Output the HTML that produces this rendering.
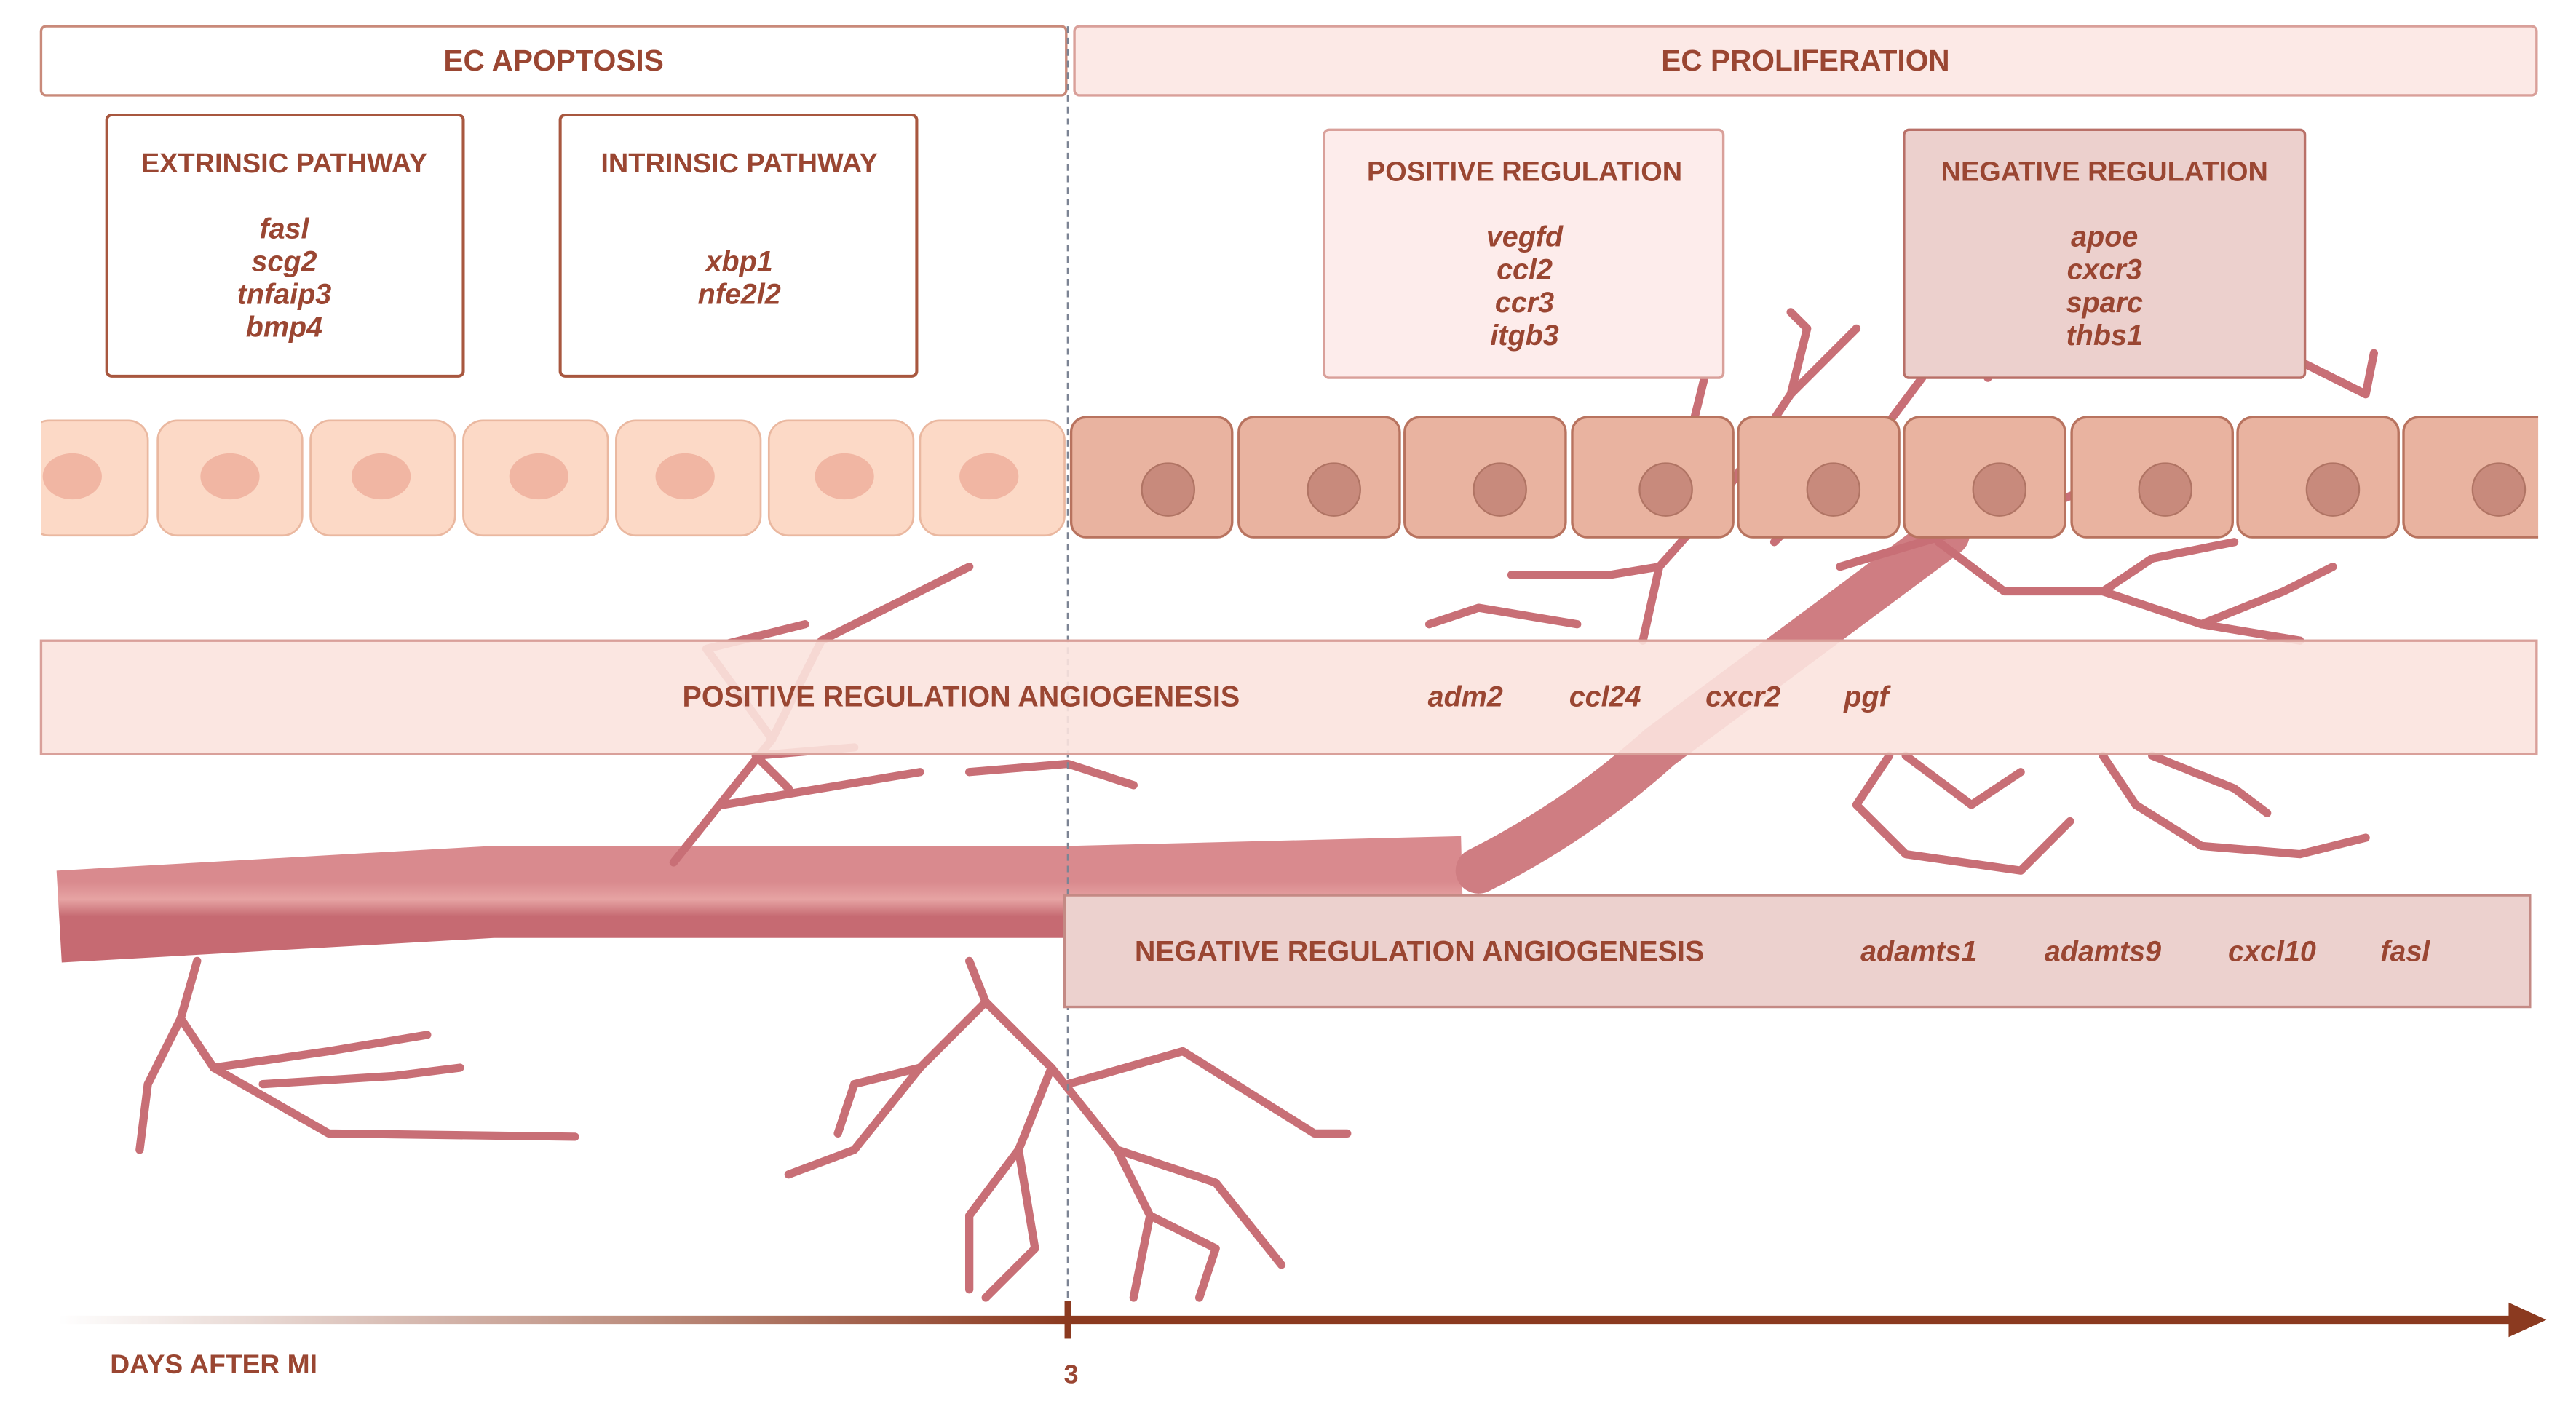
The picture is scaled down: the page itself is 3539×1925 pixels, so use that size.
<!DOCTYPE html>
<html><head><meta charset="utf-8"><style>
html,body{margin:0;padding:0;background:#fff;}
svg{display:block;}
text{font-family:"Liberation Sans",sans-serif;fill:#9a4632;font-weight:bold;}
.g{font-style:italic;}
</style></head><body>
<svg width="3539" height="1925" viewBox="0 0 1568 852.9" preserveAspectRatio="none" xmlns="http://www.w3.org/2000/svg">
<defs>
<linearGradient id="ax" x1="0" x2="1"><stop offset="0" stop-color="#8b3a20" stop-opacity="0"/><stop offset="1" stop-color="#8b3a20"/></linearGradient>
<linearGradient id="vs" x1="0" y1="0" x2="0" y2="1"><stop offset="0" stop-color="#d98a8e"/><stop offset="0.5" stop-color="#e6a3a3"/><stop offset="1" stop-color="#c66a72"/></linearGradient>
</defs>
<g fill="none" stroke="#c86f76" stroke-linecap="round" stroke-linejoin="round">
<path d="M36,558 L300,543 L650,543 L890,537" stroke="url(#vs)" stroke-width="56" stroke-linecap="butt"/>
<path d="M900,530 Q960,500 1010,455 L1185,325" stroke="#cf7d82" stroke-width="28"/>
<g stroke-width="5">
<path d="M410,525 L470,450 L500,390 L560,360 L590,345"/>
<path d="M470,450 L430,395 L490,380"/>
<path d="M500,390 L540,370"/>
<path d="M440,490 L500,480 L560,470"/>
<path d="M480,480 L460,460 L520,455"/>
<path d="M590,470 L650,465 L690,478"/>
<path d="M120,585 L110,620 L130,650 L200,690 L350,692"/>
<path d="M110,620 L90,660 L85,700"/>
<path d="M130,650 L200,640 L260,630"/>
<path d="M160,660 L240,655 L280,650"/>
<path d="M590,585 L600,610 L640,650 L680,700 L700,740 L690,790"/>
<path d="M600,610 L560,650 L520,700 L480,715"/>
<path d="M560,650 L520,660 L510,690"/>
<path d="M640,650 L620,700 L630,760 L600,790"/>
<path d="M620,700 L590,740 L590,785"/>
<path d="M650,660 L720,640 L800,690 L820,690"/>
<path d="M680,700 L740,720 L780,770"/>
<path d="M700,740 L740,760 L730,790"/>
<path d="M1000,390 L1010,345 L1050,300 L1090,240 L1130,200"/>
<path d="M1050,300 L1030,260 L1040,220"/>
<path d="M1090,240 L1100,200 L1090,190"/>
<path d="M1010,345 L980,350 L920,350"/>
<path d="M960,380 L900,370 L870,380"/>
<path d="M1080,330 L1140,270 L1170,230"/>
<path d="M1120,345 L1170,330 L1240,310 L1290,290"/>
<path d="M1180,330 L1220,360 L1280,360 L1340,380 L1400,390"/>
<path d="M1280,360 L1310,340 L1360,330"/>
<path d="M1340,380 L1390,360 L1420,345"/>
<path d="M1210,230 L1230,200 L1260,190"/>
<path d="M1400,220 L1440,240 L1445,215"/>
<path d="M1150,460 L1130,490 L1160,520 L1230,530 L1260,500"/>
<path d="M1160,460 L1200,490 L1230,470"/>
<path d="M1280,460 L1300,490 L1340,515 L1400,520 L1440,510"/>
<path d="M1310,460 L1360,480 L1380,495"/>
</g></g>
<rect x="25" y="16" width="624" height="42" fill="#fff" stroke="#c98a7a" stroke-width="1.5" rx="3"/>
<text x="337" y="43" text-anchor="middle" font-size="18">EC APOPTOSIS</text>
<rect x="654" y="16" width="890" height="42" fill="#fce9e6" stroke="#d9a09a" stroke-width="1.5" rx="3"/>
<text x="1099" y="43" text-anchor="middle" font-size="18">EC PROLIFERATION</text>
<line x1="650" y1="16" x2="650" y2="800" stroke="#7c8494" stroke-width="1.2" stroke-dasharray="4,3"/>
<rect x="65" y="70" width="217" height="159" fill="#fff" stroke="#a8573f" stroke-width="1.8" rx="3"/>
<text x="173" y="105" text-anchor="middle" font-size="16.8">EXTRINSIC PATHWAY</text>
<g font-size="17.5">
<text class="g" x="173" y="145" text-anchor="middle">fasl</text>
<text class="g" x="173" y="165" text-anchor="middle">scg2</text>
<text class="g" x="173" y="185" text-anchor="middle">tnfaip3</text>
<text class="g" x="173" y="205" text-anchor="middle">bmp4</text>
</g>
<rect x="341" y="70" width="217" height="159" fill="#fff" stroke="#a8573f" stroke-width="1.8" rx="3"/>
<text x="450" y="105" text-anchor="middle" font-size="16.8">INTRINSIC PATHWAY</text>
<g font-size="17.5"><text class="g" x="450" y="165" text-anchor="middle">xbp1</text>
<text class="g" x="450" y="185" text-anchor="middle">nfe2l2</text></g>
<rect x="806" y="79" width="243" height="151" fill="#fdeceb" stroke="#d9a09a" stroke-width="1.5" rx="3"/>
<text x="928" y="110" text-anchor="middle" font-size="16.8">POSITIVE REGULATION</text>
<g font-size="17.5"><text class="g" x="928" y="150" text-anchor="middle">vegfd</text>
<text class="g" x="928" y="170" text-anchor="middle">ccl2</text>
<text class="g" x="928" y="190" text-anchor="middle">ccr3</text>
<text class="g" x="928" y="210" text-anchor="middle">itgb3</text></g>
<rect x="1159" y="79" width="244" height="151" fill="#ecd0cd" stroke="#b97068" stroke-width="1.5" rx="3"/>
<text x="1281" y="110" text-anchor="middle" font-size="16.8">NEGATIVE REGULATION</text>
<g font-size="17.5"><text class="g" x="1281" y="150" text-anchor="middle">apoe</text>
<text class="g" x="1281" y="170" text-anchor="middle">cxcr3</text>
<text class="g" x="1281" y="190" text-anchor="middle">sparc</text>
<text class="g" x="1281" y="210" text-anchor="middle">thbs1</text></g>
<g fill="#fcd9c6" stroke="#eab8a0" stroke-width="1.2">
<rect x="18" y="256" width="72" height="70" rx="12"/>
<rect x="96" y="256" width="88" height="70" rx="12"/>
<rect x="189" y="256" width="88" height="70" rx="12"/>
<rect x="282" y="256" width="88" height="70" rx="12"/>
<rect x="375" y="256" width="88" height="70" rx="12"/>
<rect x="468" y="256" width="88" height="70" rx="12"/>
<rect x="560" y="256" width="88" height="70" rx="12"/>
</g>
<g fill="#f1b6a3">
<ellipse cx="44" cy="290" rx="18" ry="14"/><ellipse cx="140" cy="290" rx="18" ry="14"/>
<ellipse cx="232" cy="290" rx="18" ry="14"/><ellipse cx="328" cy="290" rx="18" ry="14"/>
<ellipse cx="417" cy="290" rx="18" ry="14"/><ellipse cx="514" cy="290" rx="18" ry="14"/>
<ellipse cx="602" cy="290" rx="18" ry="14"/></g>
<rect x="17" y="250" width="8" height="82" fill="#fff"/>
<g fill="#e9b3a0" stroke="#b8735f" stroke-width="1.5">
<rect x="652" y="254" width="98" height="73" rx="9"/>
<rect x="754" y="254" width="98" height="73" rx="9"/>
<rect x="855" y="254" width="98" height="73" rx="9"/>
<rect x="957" y="254" width="98" height="73" rx="9"/>
<rect x="1058" y="254" width="98" height="73" rx="9"/>
<rect x="1159" y="254" width="98" height="73" rx="9"/>
<rect x="1261" y="254" width="98" height="73" rx="9"/>
<rect x="1362" y="254" width="98" height="73" rx="9"/>
<rect x="1463" y="254" width="98" height="73" rx="9"/>
</g>
<g fill="#c88a7c" stroke="#b07464" stroke-width="1">
<circle cx="711" cy="298" r="16"/><circle cx="812" cy="298" r="16"/><circle cx="913" cy="298" r="16"/>
<circle cx="1014" cy="298" r="16"/><circle cx="1116" cy="298" r="16"/><circle cx="1217" cy="298" r="16"/>
<circle cx="1318" cy="298" r="16"/><circle cx="1420" cy="298" r="16"/><circle cx="1521" cy="298" r="16"/></g>
<rect x="1545" y="248" width="30" height="85" fill="#fff"/>
<rect x="25" y="390" width="1519" height="69" fill="#fbe3de" fill-opacity="0.9" stroke="#d9a09a" stroke-width="1.5"/>
<text x="585" y="430" text-anchor="middle" font-size="17.5">POSITIVE REGULATION ANGIOGENESIS</text>
<g font-size="17.5"><text class="g" x="892" y="430" text-anchor="middle">adm2</text>
<text class="g" x="977" y="430" text-anchor="middle">ccl24</text>
<text class="g" x="1061" y="430" text-anchor="middle">cxcr2</text>
<text class="g" x="1136" y="430" text-anchor="middle">pgf</text></g>
<rect x="648" y="545" width="892" height="68" fill="#ecd1ce" stroke="#c48a85" stroke-width="1.5"/>
<text x="864" y="585" text-anchor="middle" font-size="17.5">NEGATIVE REGULATION ANGIOGENESIS</text>
<g font-size="17.5"><text class="g" x="1168" y="585" text-anchor="middle">adamts1</text>
<text class="g" x="1280" y="585" text-anchor="middle">adamts9</text>
<text class="g" x="1383" y="585" text-anchor="middle">cxcl10</text>
<text class="g" x="1464" y="585" text-anchor="middle">fasl</text></g>
<rect x="35" y="801" width="615" height="5" fill="url(#ax)"/>
<rect x="650" y="801" width="882" height="5" fill="#8b3a20"/>
<polygon points="1527,793 1550,803.5 1527,814" fill="#8b3a20"/>
<rect x="648" y="792" width="4" height="23" fill="#8b3a20"/>
<text x="652" y="842" text-anchor="middle" font-size="16">3</text>
<text x="67" y="836" font-size="16.5">DAYS AFTER MI</text>
</svg>
</body></html>
